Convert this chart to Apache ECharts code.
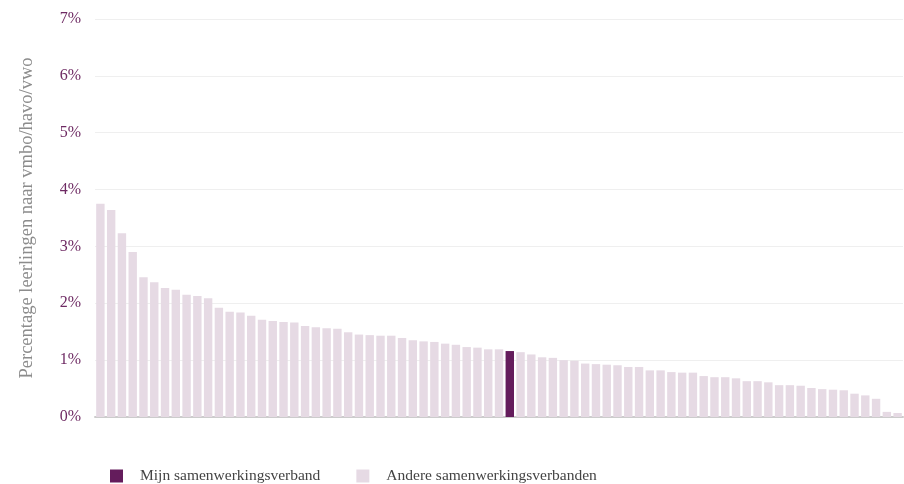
<!DOCTYPE html>
<html>
<head>
<meta charset="utf-8">
<script src="https://cdn.jsdelivr.net/npm/echarts@6/dist/echarts.min.js"></script>
<style>
  html, body { margin: 0; padding: 0; background: #fff; }
  #chart { width: 904px; height: 484px; }
</style>
</head>
<body>
<div id="chart"></div>
<script>
// percentages per samenwerkingsverband, sorted high -> low
const percentages = [
  3.75, 3.64, 3.23, 2.90, 2.46, 2.37, 2.27, 2.24, 2.15, 2.13,
  2.09, 1.92, 1.85, 1.84, 1.78, 1.71, 1.69, 1.67, 1.66, 1.60,
  1.58, 1.56, 1.55, 1.49, 1.45, 1.44, 1.43, 1.43, 1.39, 1.35,
  1.33, 1.32, 1.29, 1.27, 1.23, 1.22, 1.19, 1.19, 1.16, 1.14,
  1.10, 1.05, 1.04, 1.00, 0.99, 0.94, 0.93, 0.92, 0.91, 0.88,
  0.88, 0.82, 0.82, 0.79, 0.78, 0.78, 0.72, 0.70, 0.70, 0.68,
  0.63, 0.63, 0.61, 0.56, 0.56, 0.55, 0.51, 0.49, 0.48, 0.47,
  0.41, 0.38, 0.32, 0.09, 0.07
]
// position of "mijn samenwerkingsverband" in the list
const mijnIndex = 38
const seriesNames = ['Mijn samenwerkingsverband', 'Andere samenwerkingsverbanden']
const yTicks = [0, 1, 2, 3, 4, 5, 6, 7]

const categories = percentages.map((v, i) => 'swv' + (i + 1))
const mijnData = percentages.map((v, i) => (i === mijnIndex ? v : null))
const andereData = percentages.map((v, i) => (i === mijnIndex ? null : v))

const myChart = echarts.init(document.getElementById('chart'))
myChart.setOption({
  animation: false,
  color: ['#641c5c', '#e6dae4'],
  grid: {
    left: 95,
    right: 1,
    top: 19,
    bottom: 67
  },
  legend: {
    left: 105,
    top: 463,
    itemWidth: 13,
    itemHeight: 13,
    itemGap: 36,
    icon: 'rect',
    data: seriesNames,
    textStyle: {
      fontFamily: 'Liberation Serif',
      fontSize: 15.5,
      color: '#444',
      padding: [0, 0, 0, 12]
    }
  },
  xAxis: {
    type: 'category',
    data: categories,
    axisLine: { lineStyle: { color: '#cccccc', width: 2 } },
    axisTick: { show: false },
    axisLabel: { show: false }
  },
  yAxis: {
    type: 'value',
    min: yTicks[0],
    max: yTicks[yTicks.length - 1],
    interval: 1,
    name: 'Percentage leerlingen naar vmbo/havo/vwo',
    nameLocation: 'middle',
    nameGap: 58,
    nameTextStyle: {
      fontFamily: 'Liberation Serif',
      fontSize: 18.5,
      color: '#8c8c8c'
    },
    axisLine: { show: false },
    axisTick: { show: false },
    axisLabel: {
      margin: 14,
      padding: [4, 0, 0, 0],
      fontFamily: 'Liberation Serif',
      fontSize: 16,
      color: '#6e2a63',
      formatter: '{value}%'
    },
    splitLine: { lineStyle: { color: '#efefef', width: 1 } }
  },
  series: [
    {
      name: seriesNames[0],
      type: 'bar',
      data: mijnData,
      barGap: '-100%',
      barCategoryGap: '22%'
    },
    {
      name: seriesNames[1],
      type: 'bar',
      data: andereData,
      barGap: '-100%',
      barCategoryGap: '22%'
    }
  ]
})
</script>
</body>
</html>
